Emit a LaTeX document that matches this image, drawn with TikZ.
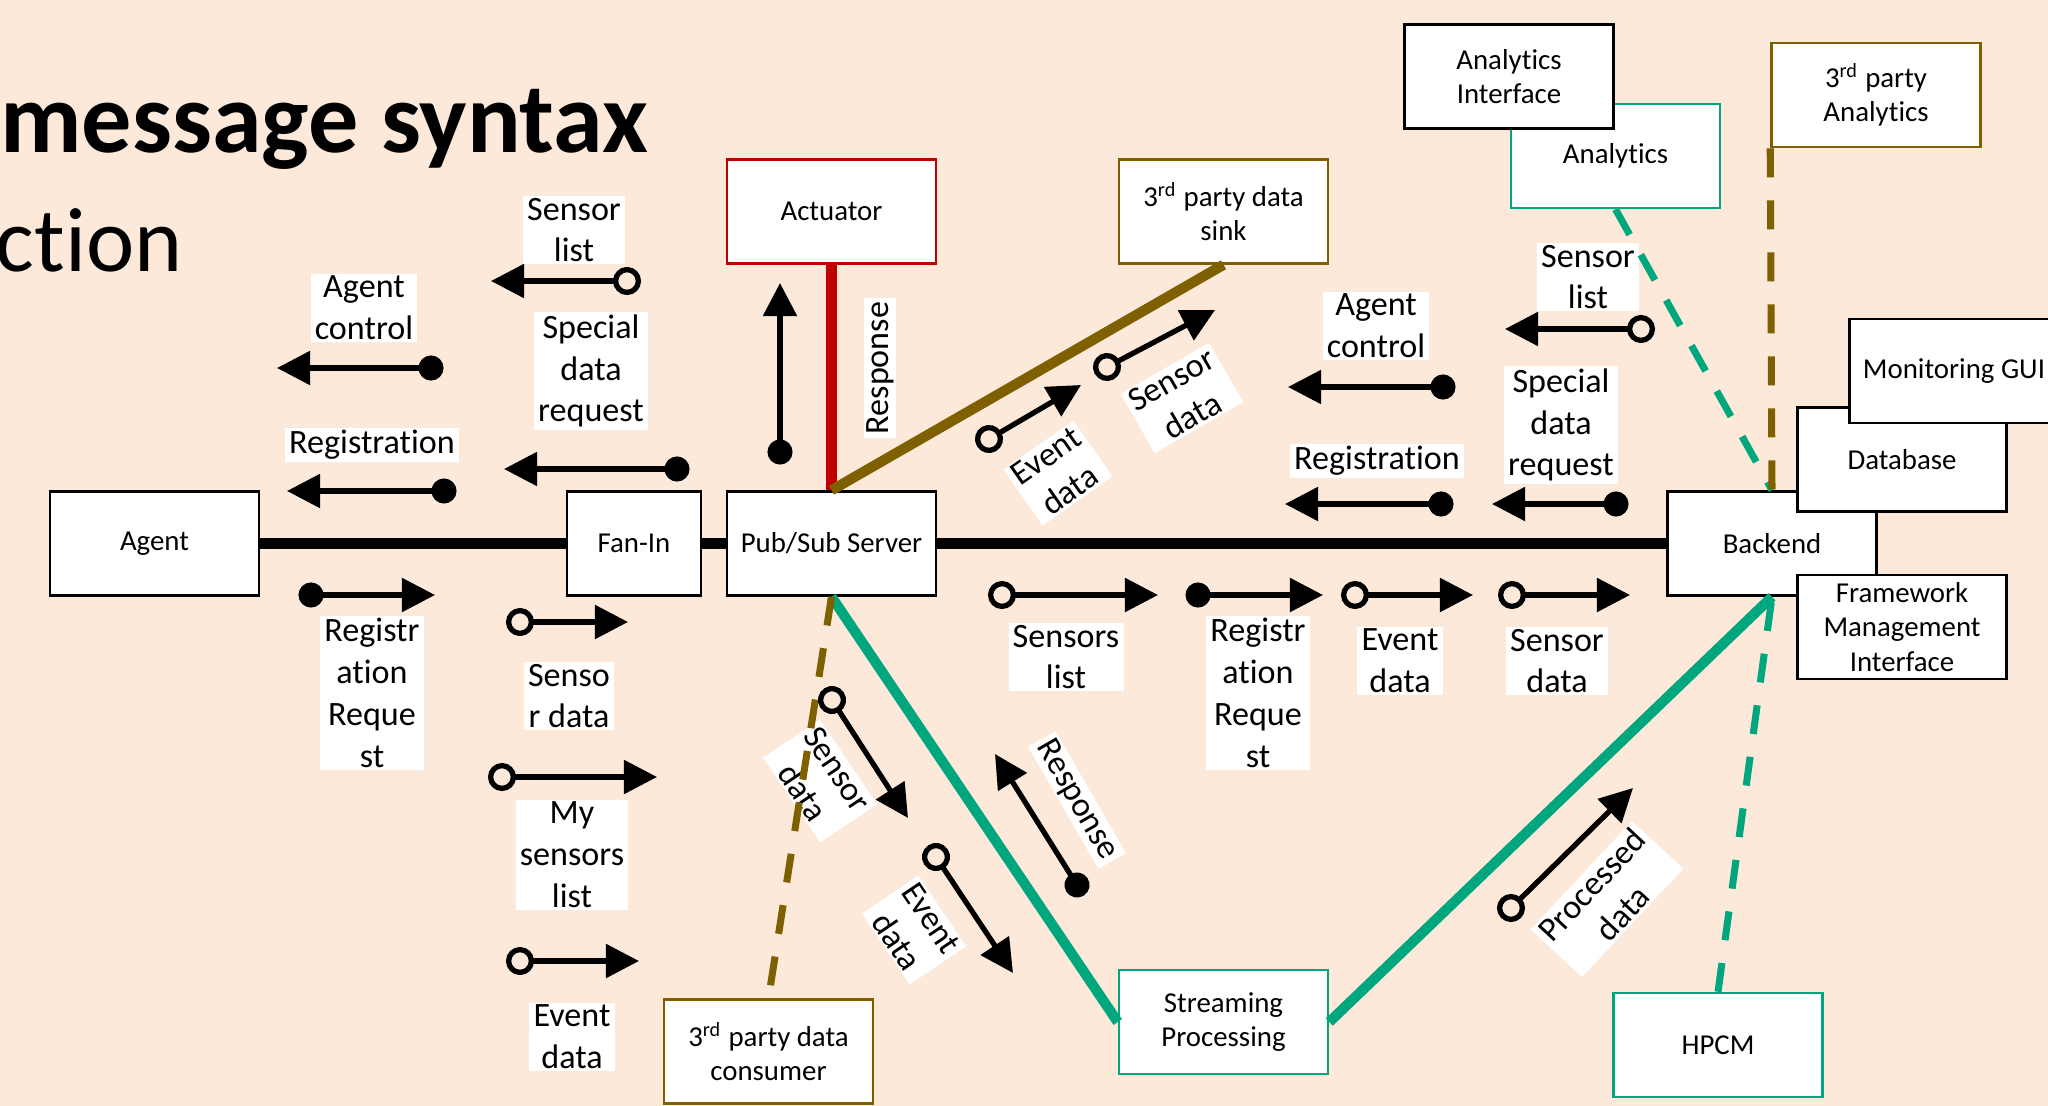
\documentclass[tikz,border=0pt]{standalone}
\usepackage{fontspec}
\setmainfont{Carlito}[Ligatures=NoCommon]
\usetikzlibrary{positioning,arrows.meta,calc}
\definecolor{slidebg}{HTML}{FCE9DA}
\definecolor{linkteal}{HTML}{00A67E}
\definecolor{linkolive}{HTML}{7F6000}
\definecolor{linkred}{HTML}{C00000}
\newcommand{\rdsup}{\textsuperscript{rd}}
\tikzset{
    comp/.style={draw=black,fill=white,line width=0.7pt,minimum width=2.09cm,minimum height=1.04cm,
        align=center,inner sep=2pt,font=\fontsize{8.2}{9.8}\selectfont},
    lbl/.style={fill=white,align=center,inner xsep=1.2pt,inner ysep=0.6pt,font=\fontsize{9.7}{11.9}\selectfont},
    bus/.style={line width=3.1pt},
    link/.style={line width=2.9pt},
    dlink/.style={line width=2pt,dash pattern=on 2.9mm off 2.3mm},
    msg/.style={line width=1.5pt},
    dotmsg/.style={msg,shorten <=-1.25mm,{Circle[length=2.5mm]}-{Triangle[length=3.3mm,width=3.3mm]}},
    ringmsg/.style={msg,shorten <=-1.4mm,{Circle[open,length=2.8mm]}-{Triangle[length=3.3mm,width=3.3mm]}},
}

\begin{document}
\begin{tikzpicture}[x=0.01cm,y=-0.01cm]
    \fill[slidebg] (0,0) rectangle (2048,1106);
    \useasboundingbox (0,0) rectangle (2048,1106);
    \clip (0,0) rectangle (2048,1106);

    % slide title, cut off on the left
    \node[anchor=base east,inner sep=0,font=\fontsize{28.5}{34}\selectfont\bfseries] (title) at (649,152) {message syntax};
    \node[anchor=base east,inner sep=0,font=\fontsize{26}{30}\selectfont] (subtitle) at (183,271) {ction};

    % components
    \node[comp] (agent) at (154.5,543.5) {Agent};
    \node[comp,minimum width=1.34cm] (fanin) at (634,543.5) {Fan-In};
    \node[comp] (pubsub) at (831.5,543.5) {Pub/Sub Server};
    \node[comp,draw=linkred] (act) at (831.5,211.5) {Actuator};
    \node[comp,draw=linkolive] (sink) at (1223.5,211.5) {3\rdsup{} party data\\sink};
    \node[comp] (backend) at (1772,543.5) {Backend};
    \node[comp] (db) at (1902,459.5) {Database};
    \node[comp] (gui) at (1954,371) {Monitoring GUI};
    \node[comp] (fmi) at (1902,627) {Framework\\Management\\Interface};
    \node[comp,draw=linkteal] (ana) at (1615.5,156) {Analytics};
    \node[comp] (anaif) at (1509,76.5) {Analytics\\Interface};
    \node[comp,draw=linkolive] (tpa) at (1876,95) {3\rdsup{} party\\Analytics};
    \node[comp,draw=linkteal] (stream) at (1223.5,1022) {Streaming\\Processing};
    \node[comp,draw=linkteal] (hpcm) at (1718,1045) {HPCM};
    \node[comp,draw=linkolive] (cons) at (768.5,1051.5) {3\rdsup{} party data\\consumer};

    % message labels
    \node[lbl] (lagc) at (364,308) {Agent\\control};
    \node[lbl] (lreg) at (372,445) {Registration};
    \node[lbl] (lsl) at (574,230) {Sensor\\list};
    \node[lbl] (lsdr) at (591,371) {Special\\data\\request};
    \node[lbl] (lrr) at (372,693) {Registr\\ation\\Reque\\st};
    \node[lbl] (lsd) at (569,696) {Senso\\r data};
    \node[lbl] (lmsl) at (572,855) {My\\sensors\\list};
    \node[lbl] (led) at (572,1037) {Event\\data};
    \node[lbl,rotate=90] (lresp) at (880,368) {Response};
    \node[lbl,rotate=35] (led2) at (1058,473) {Event\\data};
    \node[lbl,rotate=30] (lsd2) at (1182,398) {Sensor\\data};
    \node[lbl] (lagc2) at (1376,326) {Agent\\control};
    \node[lbl] (lreg2) at (1377,461) {Registration};
    \node[lbl] (lsl2) at (1588,277) {Sensor\\list};
    \node[lbl] (lsdr2) at (1561,425) {Special\\data\\request};
    \node[lbl] (lsl3) at (1066,657) {Sensors\\list};
    \node[lbl] (lrr2) at (1258,693) {Registr\\ation\\Reque\\st};
    \node[lbl] (led3) at (1400,661) {Event\\data};
    \node[lbl] (lsd3) at (1557,661) {Sensor\\data};
    \node[lbl,rotate=-56] (lsd4) at (820,781) {Sensor\\data};
    \node[lbl,rotate=-56] (led4) at (914,930) {Event\\data};
    \node[lbl,rotate=-60] (lresp2) at (1077,800) {Response};
    \node[lbl,rotate=47] (lproc) at (1607,899) {Processed\\data};

    % bus and links
    \draw[bus] (agent) -- (fanin) -- (pubsub) -- (backend);
    \draw[link,linkred] (pubsub.north) -- (act.south);
    \draw[link,linkolive] (pubsub.north) -- (sink.south);
    \draw[link,linkteal] (pubsub.south) -- (stream.west);
    \draw[link,linkteal] (stream.east) -- (backend.south);
    \draw[dlink,linkolive] (pubsub.south) -- (cons.north);
    \draw[dlink,linkteal] (ana.south) -- (backend.north);
    \draw[dlink,linkolive] (tpa.south west) -- (backend.north);
    \draw[dlink,linkteal] (hpcm.north) -- (backend.south);

    % messages
    \draw[dotmsg] (431,368) -- (277,368);
    \draw[dotmsg] (444,491) -- (287,491);
    \draw[ringmsg] (627,281) -- (491,281);
    \draw[dotmsg] (677,469) -- (504,469);
    \draw[dotmsg] (311,595) -- (435,595);
    \draw[ringmsg] (520,622) -- (628,622);
    \draw[ringmsg] (502,777) -- (657,777);
    \draw[ringmsg] (520,961) -- (639,961);
    \draw[dotmsg] (780,452) -- (780,283);
    \draw[ringmsg] (989,439) -- (1081,385);
    \draw[ringmsg] (1107,367) -- (1215,310);
    \draw[dotmsg] (1443,387) -- (1288,387);
    \draw[dotmsg] (1441,504) -- (1285,504);
    \draw[ringmsg] (1641,329) -- (1505,329);
    \draw[dotmsg] (1616,504) -- (1492,504);
    \draw[ringmsg] (1002,595) -- (1158,595);
    \draw[dotmsg] (1198,595) -- (1323,595);
    \draw[ringmsg] (1355,595) -- (1473,595);
    \draw[ringmsg] (1512,595) -- (1630,595);
    \draw[ringmsg] (832,700) -- (908,818);
    \draw[ringmsg] (936,857) -- (1013,973);
    \draw[dotmsg] (1077,885) -- (995,754);
    \draw[ringmsg] (1511,908) -- (1633,788);
\end{tikzpicture}
\end{document}
